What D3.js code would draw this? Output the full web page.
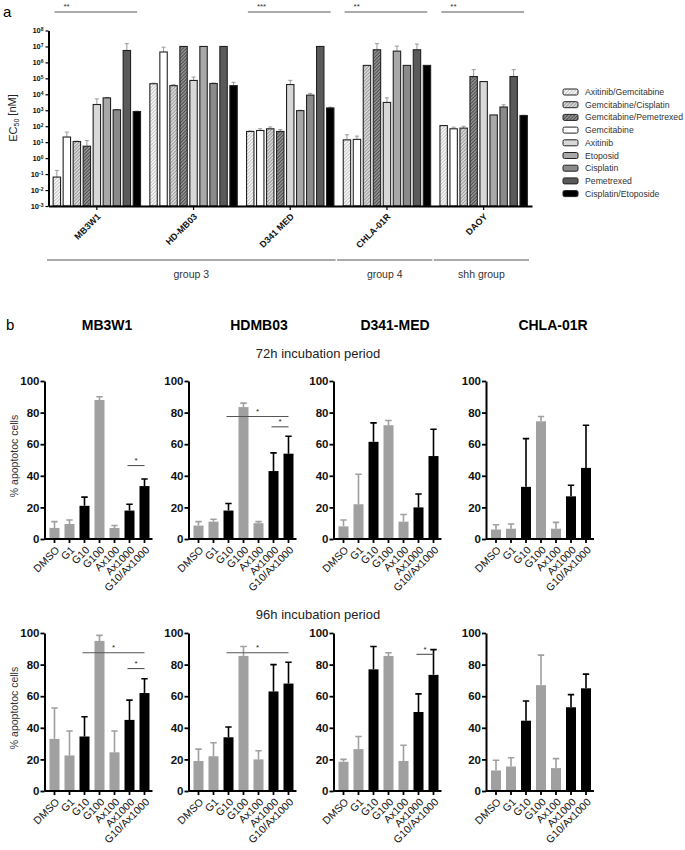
<!DOCTYPE html>
<html>
<head>
<meta charset="utf-8">
<script src="https://cdn.jsdelivr.net/npm/d3@7"></script>
<style>
  body { margin: 0; background: #fff; }
  text { font-family: "Liberation Sans", Arial, sans-serif; }
</style>
</head>
<body>
<svg id="canvas" width="685" height="850"></svg>
<script>
// ---- panel a data ----
let cellLinesA = ["MB3W1", "HD-MB03", "D341 MED", "CHLA-01R", "DAOY"]
let drugsA = ["Axitinib/Gemcitabine", "Gemcitabine", "Gemcitabine/Cisplatin", "Gemcitabine/Pemetrexed",
              "Axitinib", "Etoposid", "Cisplatin", "Pemetrexed", "Cisplatin/Etoposide"]
let legendDrugs = ["Axitinib/Gemcitabine", "Gemcitabine/Cisplatin", "Gemcitabine/Pemetrexed", "Gemcitabine",
                   "Axitinib", "Etoposid", "Cisplatin", "Pemetrexed", "Cisplatin/Etoposide"]
// EC50 in nM, one row per cell line, columns in drugsA order
let ec50Values = [
    [0.065, 21, 11, 5.6, 2300, 6000, 1070, 5.6e6, 830],
    [4.6e4, 4.5e6, 3.5e4, 1e7, 7.4e4, 1e7, 4.8e4, 1e7, 3.5e4],
    [47, 54, 69, 47, 4.1e4, 950, 8900, 1e7, 1400],
    [14, 15, 6.5e5, 6.2e6, 3100, 5.1e6, 6.5e5, 6.2e6, 6.5e5],
    [110, 69, 76, 1.3e5, 6.3e4, 510, 1600, 1.3e5, 470]
]
let ec50Upper = [
    [0.17, 43, 11.5, 12.6, 5200, 6300, 1120, 1.5e7, 890],
    [5e4, 9e6, 4e4, null, 1.2e5, null, 5e4, null, 5.7e4],
    [50, 70, 90, 62, 7.5e4, 1000, 1.15e4, null, 1550],
    [29, 24, null, 1.5e7, 6000, 1.05e7, null, 1.4e7, null],
    [null, 87, 100, 3.5e5, null, null, 2200, 3.5e5, 490]
]
let ec50Ticks = [1e-3, 1e-2, 1e-1, 1e0, 1e1, 1e2, 1e3, 1e4, 1e5, 1e6, 1e7, 1e8]
let sigA = [
    { line: "MB3W1", label: "**" },
    { line: "D341 MED", label: "***" },
    { line: "CHLA-01R", label: "**" },
    { line: "DAOY", label: "**" }
]
let subgroups = [
    { name: "group 3", from: "MB3W1", to: "D341 MED" },
    { name: "group 4", from: "CHLA-01R", to: "CHLA-01R" },
    { name: "shh group", from: "DAOY", to: "DAOY" }
]

// ---- panel b data ----
let cellLinesB = ["MB3W1", "HDMB03", "D341-MED", "CHLA-01R"]
let treatments = ["DMSO", "G1", "G10", "G100", "Ax100", "Ax1000", "G10/Ax1000"]
let highlighted = ["G10", "Ax1000", "G10/Ax1000"]
let apoTicks = [0, 20, 40, 60, 80, 100]
let mean72 = [
    [7, 9.5, 21, 88, 7, 18, 33.5],
    [8.5, 11, 18, 83.5, 10, 43, 54],
    [8, 22, 61.5, 72, 11, 20, 52.5],
    [6, 6.5, 33, 74.5, 6.5, 27, 45]
]
let sd72 = [
    [4, 2.5, 5.5, 2, 1.5, 4, 4.5],
    [2.5, 1.5, 4.5, 2.5, 1, 11.5, 11],
    [4, 19, 12, 3, 4.5, 8.5, 17],
    [3, 3, 30.5, 3, 4, 7, 27]
]
let mean96 = [
    [33, 22.5, 34.5, 95, 24.5, 45, 62],
    [19, 22, 34, 85.5, 20, 63, 68],
    [18.5, 26.5, 77, 85.5, 19, 50, 73.5],
    [13, 15.5, 44.5, 67, 14.5, 53, 65]
]
let sd96 = [
    [19.5, 15.5, 12.5, 3.5, 13.5, 12.5, 9],
    [7.5, 8.5, 6.5, 6, 5.5, 17, 13.5],
    [1.5, 8, 14.5, 2, 10, 11.5, 16],
    [6.5, 5.5, 12.5, 19, 6, 8, 9]
]
let sig72 = [
    { panel: 0, from: "Ax1000", to: "G10/Ax1000", y: 46.5 },
    { panel: 1, from: "G10", to: "G10/Ax1000", y: 77.5 },
    { panel: 1, from: "Ax1000", to: "G10/Ax1000", y: 71 }
]
let sig96 = [
    { panel: 0, from: "G10", to: "G10/Ax1000", y: 87.5 },
    { panel: 0, from: "Ax1000", to: "G10/Ax1000", y: 77.5 },
    { panel: 1, from: "G10", to: "G10/Ax1000", y: 87.5 },
    { panel: 2, from: "Ax1000", to: "G10/Ax1000", y: 86.5 }
]

let canvas = d3.select("#canvas")

// hatch patterns
let defs = canvas.append("defs")
let makeHatch = (id, bg, fg) => {
    let p = defs.append("pattern")
        .attr("id", id)
        .attr("patternUnits", "userSpaceOnUse")
        .attr("width", 2.4).attr("height", 2.4)
        .attr("patternTransform", "rotate(45)")
    p.append("rect").attr("width", 2.4).attr("height", 2.4).attr("fill", bg)
    p.append("line").attr("x1", 0.6).attr("y1", 0).attr("x2", 0.6).attr("y2", 2.4)
        .attr("stroke", fg).attr("stroke-width", 0.9)
}
makeHatch("hLight", "#ffffff", "#b5b5b5")
makeHatch("hMid", "#e2e2e2", "#8a8a8a")
makeHatch("hDark", "#9a9a9a", "#3a3a3a")

let drugFill = {
    "Axitinib/Gemcitabine": "url(#hLight)",
    "Gemcitabine": "#ffffff",
    "Gemcitabine/Cisplatin": "url(#hMid)",
    "Gemcitabine/Pemetrexed": "url(#hDark)",
    "Axitinib": "#d8d8d8",
    "Etoposid": "#a8a8a8",
    "Cisplatin": "#8a8a8a",
    "Pemetrexed": "#5a5a5a",
    "Cisplatin/Etoposide": "#000000"
}

// ================= panel a =================
let xA = d3.scaleBand().domain(cellLinesA).range([48.5, 532])
let xInner = d3.scaleBand().domain(drugsA).range([0, 90]).paddingInner(0.26).paddingOuter(0.13)
let yA = d3.scaleLog().domain([1e-3, 1e8]).range([206, 30.5])
let groupLeft = (cl) => xA(cl) + xA.bandwidth() / 2 - 45

canvas.append("text").attr("x", 3).attr("y", 17).style("font-size", "15px").text("a")

let gA = canvas.append("g")

let barsA = []
cellLinesA.forEach((cl, i) => {
    drugsA.forEach((d, j) => {
        barsA.push({ cl: cl, drug: d, value: ec50Values[i][j], upper: ec50Upper[i][j] })
    })
})

// error bars (upper only)
gA.selectAll(".errA")
    .data(barsA.filter(b => b.upper != null))
    .enter()
    .append("path")
    .attr("class", "errA")
    .attr("d", b => {
        let cx = groupLeft(b.cl) + xInner(b.drug) + xInner.bandwidth() / 2
        return "M" + cx + "," + yA(b.value) + "V" + yA(b.upper) + "M" + (cx - 2) + "," + yA(b.upper) + "H" + (cx + 2)
    })
    .attr("stroke", "#999")
    .attr("stroke-width", 1)
    .attr("fill", "none")

gA.selectAll(".barA")
    .data(barsA)
    .enter()
    .append("rect")
    .attr("class", "barA")
    .attr("x", b => groupLeft(b.cl) + xInner(b.drug))
    .attr("width", xInner.bandwidth())
    .attr("y", b => yA(b.value))
    .attr("height", b => yA(1e-3) - yA(b.value))
    .attr("fill", b => drugFill[b.drug])
    .attr("stroke", "#222")
    .attr("stroke-width", 1.1)

// y axis
let yAxisA = gA.append("g")
    .attr("transform", "translate(48.5,0)")
    .call(d3.axisLeft(yA).tickValues(ec50Ticks).tickSize(3).tickSizeOuter(0).tickFormat(() => ""))
yAxisA.select(".domain").attr("stroke-width", 2)
yAxisA.selectAll(".tick line").attr("stroke-width", 1.2)
yAxisA.selectAll(".tick text")
    .attr("x", -5)
    .style("font-size", "7.5px")
    .style("font-weight", "bold")
    .style("fill", "#111")
    .each(function (d) {
        let t = d3.select(this)
        t.text("10")
        t.append("tspan")
            .attr("dy", "-0.45em")
            .style("font-size", "5px")
            .text(Math.round(Math.log10(d)))
    })

// x axis
let xAxisA = gA.append("g")
    .attr("transform", "translate(0,206)")
    .call(d3.axisBottom(xA).tickSize(4).tickSizeOuter(0))
xAxisA.select(".domain").attr("stroke-width", 2)
xAxisA.selectAll(".tick line").attr("stroke-width", 1.2)
xAxisA.selectAll(".tick text")
    .attr("x", 0).attr("y", 0).attr("dy", "0.35em")
    .attr("transform", "translate(2,9) rotate(-45)")
    .style("text-anchor", "end")
    .style("font-size", "9px")
    .style("font-weight", "bold")
    .style("fill", "#111")

// y label
canvas.append("text")
    .attr("transform", "translate(17,118) rotate(-90)")
    .style("text-anchor", "middle")
    .style("font-size", "11px")
    .style("fill", "#222")
    .call(t => {
        t.append("tspan").text("EC")
        t.append("tspan").attr("dy", "0.3em").style("font-size", "7px").text("50")
        t.append("tspan").attr("dy", "-0.3em").text(" [nM]")
    })

// significance lines on top
sigA.forEach(s => {
    let x0 = xA(s.line) + 6
    let x1 = xA(s.line) + xA.bandwidth() - 8
    canvas.append("line").attr("x1", x0).attr("x2", x1).attr("y1", 12).attr("y2", 12)
        .attr("stroke", "#555").attr("stroke-width", 1)
    canvas.append("text").attr("x", x0 + 9).attr("y", 9)
        .style("font-size", "8px").style("fill", "#333").text(s.label)
})

// subgroup lines
subgroups.forEach(g => {
    let x0 = xA(g.from) - 1.5
    let x1 = xA(g.to) + xA.bandwidth() - 3
    canvas.append("line").attr("x1", x0).attr("x2", x1).attr("y1", 260).attr("y2", 260)
        .attr("stroke", "#aaa").attr("stroke-width", 2)
    canvas.append("text").attr("x", (x0 + x1) / 2).attr("y", 278)
        .style("text-anchor", "middle").style("font-size", "10.5px").style("fill", "#333").text(g.name)
})

// legend
let legend = canvas.append("g").attr("transform", "translate(563,92)")
legendDrugs.forEach((d, i) => {
    legend.append("rect")
        .attr("x", 0).attr("y", i * 12.7 - 3)
        .attr("width", 15).attr("height", 6).attr("rx", 1.5)
        .attr("fill", drugFill[d]).attr("stroke", "#222").attr("stroke-width", 1)
    legend.append("text")
        .attr("x", 22).attr("y", i * 12.7).attr("dy", "0.35em")
        .style("font-size", "8.7px").style("fill", "#333").text(d)
})

// ================= panel b =================
let panelLeft = [44.5, 188.5, 333.5, 486]
let rows = [
    { means: mean72, sds: sd72, sig: sig72, top: 381, bottom: 539, title: "72h incubation period", titleY: 358 },
    { means: mean96, sds: sd96, sig: sig96, top: 633, bottom: 791, title: "96h incubation period", titleY: 619 }
]

canvas.append("text").attr("x", 6).attr("y", 330).style("font-size", "15px").text("b")
let titleCenters = [107, 259, 395, 553]
cellLinesB.forEach((cl, i) => {
    canvas.append("text").attr("x", titleCenters[i]).attr("y", 330)
        .style("text-anchor", "middle").style("font-size", "14px").style("font-weight", "bold")
        .text(cl)
})

rows.forEach(row => {
    canvas.append("text").attr("x", 318).attr("y", row.titleY)
        .style("text-anchor", "middle").style("font-size", "13px").style("fill", "#222")
        .text(row.title)

    let yB = d3.scaleLinear().domain([0, 100]).range([row.bottom, row.top])

    cellLinesB.forEach((cl, p) => {
        let left = panelLeft[p]
        let xB = d3.scaleBand().domain(treatments).range([left, left + 110])
            .paddingInner(1 / 3).paddingOuter(1 / 3)
        let g = canvas.append("g")
        let data = treatments.map((t, k) => ({ t: t, m: row.means[p][k], sd: row.sds[p][k] }))
        let colorOf = (t) => highlighted.includes(t) ? "#000" : "#a0a0a0"

        g.selectAll(".err")
            .data(data)
            .enter()
            .append("path")
            .attr("d", d => {
                let cx = xB(d.t) + xB.bandwidth() / 2
                return "M" + cx + "," + yB(d.m) + "V" + yB(d.m + d.sd) +
                       "M" + (cx - 3.2) + "," + yB(d.m + d.sd) + "H" + (cx + 3.2)
            })
            .attr("stroke", d => colorOf(d.t))
            .attr("stroke-width", 1.6)
            .attr("fill", "none")

        g.selectAll(".bar")
            .data(data)
            .enter()
            .append("rect")
            .attr("x", d => xB(d.t))
            .attr("width", xB.bandwidth())
            .attr("y", d => yB(d.m))
            .attr("height", d => row.bottom - yB(d.m))
            .attr("fill", d => colorOf(d.t))

        let yAx = g.append("g")
            .attr("transform", "translate(" + left + ",0)")
            .call(d3.axisLeft(yB).tickValues(apoTicks).tickSize(4).tickSizeOuter(0))
        yAx.select(".domain").attr("stroke-width", 2)
        yAx.selectAll(".tick line").attr("stroke-width", 1.8)
        yAx.selectAll(".tick text")
            .attr("x", -5)
            .style("font-size", "11.5px").style("font-weight", "bold").style("fill", "#111")
            .style("font-family", "'Liberation Sans', Arial, sans-serif")

        let xAx = g.append("g")
            .attr("transform", "translate(0," + row.bottom + ")")
            .call(d3.axisBottom(xB).tickSize(4).tickSizeOuter(0))
        xAx.select(".domain").attr("stroke-width", 2).attr("d", "M" + left + ",0H" + (left + 108))
        xAx.selectAll(".tick line").attr("stroke-width", 1.8)
        xAx.selectAll(".tick text")
            .attr("x", 0).attr("y", 0).attr("dy", "0.35em")
            .attr("transform", "translate(3,9) rotate(-45)")
            .style("text-anchor", "end")
            .style("font-size", "10.5px").style("fill", "#111")
            .style("font-family", "'Liberation Sans', Arial, sans-serif")

        row.sig.filter(s => s.panel === p).forEach(s => {
            let x0 = xB(s.from) + xB.bandwidth() / 2 - 2
            let x1 = xB(s.to) + xB.bandwidth() / 2
            g.append("line").attr("x1", x0).attr("x2", x1).attr("y1", yB(s.y)).attr("y2", yB(s.y))
                .attr("stroke", "#555").attr("stroke-width", 1.1)
            g.append("text").attr("x", (x0 + x1) / 2).attr("y", yB(s.y) - 2.5)
                .style("text-anchor", "middle").style("font-size", "8px").style("fill", "#222").text("*")
        })

        if (p === 0) {
            canvas.append("text")
                .attr("transform", "translate(18," + ((row.top + row.bottom) / 2 - 4) + ") rotate(-90)")
                .style("text-anchor", "middle").style("font-size", "10.5px").style("fill", "#333")
                .text("% apoptotoc cells")
        }
    })
})
</script>
</body>
</html>
